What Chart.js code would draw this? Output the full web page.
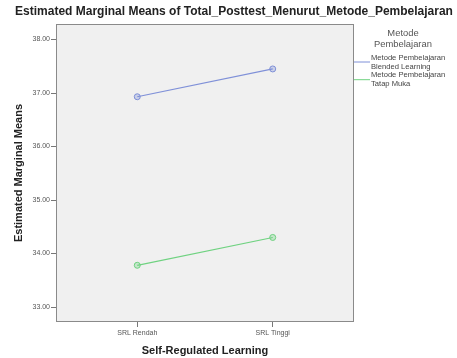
<!DOCTYPE html>
<html>
<head>
<meta charset="utf-8">
<script src="https://cdn.jsdelivr.net/npm/chart.js@4.4.1/dist/chart.umd.min.js"></script>
<style>
  html, body { margin: 0; padding: 0; background: #fff; }
  #wrap { width: 457px; height: 358px; position: relative; }
</style>
</head>
<body>
<div id="wrap"><canvas id="emm"></canvas></div>
<script>
// ==============================================
// データ
// ==============================================
const categories = ['SRL Rendah', 'SRL Tinggi'];
const blendedValues = [36.93, 37.45];
const tatapMukaValues = [33.78, 34.30];
const seriesLabels = [
  ['Metode Pembelajaran', 'Blended Learning'],
  ['Metode Pembelajaran', 'Tatap Muka']
];
const seriesColors = ['#7f90d8', '#6fd280'];
const yTicks = [33, 34, 35, 36, 37, 38];

const FONT = '"Liberation Sans", Arial, sans-serif';

const toPoints = vals => vals.map((v, i) => ({ x: i, y: v }));

// 背景・枠・タイトル・凡例
const spssFrame = {
  id: 'spssFrame',
  beforeDraw(chart) {
    const { ctx, chartArea: a } = chart;
    ctx.save();
    ctx.fillStyle = '#f0f0f0';
    ctx.fillRect(a.left, a.top, a.right - a.left, a.bottom - a.top);
    ctx.restore();
  },
  afterDraw(chart) {
    const { ctx, chartArea: a } = chart;
    ctx.save();
    ctx.strokeStyle = '#8a8a8a';
    ctx.lineWidth = 1;
    ctx.strokeRect(a.left + 0.5, a.top + 0.5, a.right - a.left - 1, a.bottom - a.top - 1);

    ctx.fillStyle = '#222';
    ctx.font = 'bold 12px ' + FONT;
    ctx.textAlign = 'center';
    ctx.textBaseline = 'middle';
    ctx.fillText('Estimated Marginal Means of Total_Posttest_Menurut_Metode_Pembelajaran', 234, 12);

    // 凡例
    ctx.fillStyle = '#555';
    ctx.font = '9.4px ' + FONT;
    ctx.fillText('Metode', 403, 33.5);
    ctx.fillText('Pembelajaran', 403, 44.5);

    ctx.font = '7.6px ' + FONT;
    ctx.textAlign = 'left';
    seriesLabels.forEach((lines, i) => {
      const y0 = 57.5 + i * 17.7;
      ctx.strokeStyle = seriesColors[i];
      ctx.beginPath();
      ctx.moveTo(a.right, y0 + 4.5);
      ctx.lineTo(a.right + 16, y0 + 4.5);
      ctx.stroke();
      ctx.fillStyle = '#444';
      lines.forEach((t, j) => ctx.fillText(t, a.right + 17, y0 + j * 9));
    });
    ctx.restore();
  }
};

const ctx = document.getElementById('emm').getContext('2d');
new Chart(ctx, {
  type: 'line',
  data: {
    datasets: [blendedValues, tatapMukaValues].map((vals, i) => ({
      label: seriesLabels[i].join(' '),
      data: toPoints(vals),
      borderColor: seriesColors[i],
      borderWidth: 1.2,
      pointRadius: 3,
      pointBorderWidth: 1,
      pointBackgroundColor: seriesColors[i] + '55'
    }))
  },
  options: {
    responsive: true,
    maintainAspectRatio: false,
    animation: false,
    layout: { padding: { left: 0, top: 24, right: 103, bottom: 0 } },
    plugins: {
      legend: { display: false },
      title: { display: false },
      tooltip: { enabled: false }
    },
    scales: {
      x: {
        type: 'linear',
        min: -0.6,
        max: 1.6,
        afterFit(scale) { scale.height = 36; },
        afterBuildTicks(scale) { scale.ticks = categories.map((c, i) => ({ value: i })); },
        grid: { drawOnChartArea: false, drawTicks: true, tickLength: 5, color: '#777' },
        border: { display: false },
        ticks: {
          padding: 2,
          color: '#555',
          font: { family: FONT, size: 7 },
          callback: v => categories[v]
        },
        title: {
          display: true,
          text: 'Self-Regulated Learning',
          color: '#222',
          font: { family: FONT, size: 11, weight: 'bold' },
          padding: { top: 3, bottom: 0 }
        }
      },
      y: {
        min: 32.72,
        max: 38.29,
        afterFit(scale) { scale.width = 56; },
        afterBuildTicks(scale) { scale.ticks = yTicks.map(v => ({ value: v })); },
        grid: { drawOnChartArea: false, drawTicks: true, tickLength: 5, color: '#777' },
        border: { display: false },
        ticks: {
          padding: 1,
          color: '#555',
          font: { family: FONT, size: 7 },
          callback: v => v.toFixed(2)
        },
        title: {
          display: true,
          text: 'Estimated Marginal Means',
          color: '#222',
          font: { family: FONT, size: 11, weight: 'bold' },
          padding: { top: 12, bottom: 0 }
        }
      }
    }
  },
  plugins: [spssFrame]
});
</script>
</body>
</html>
